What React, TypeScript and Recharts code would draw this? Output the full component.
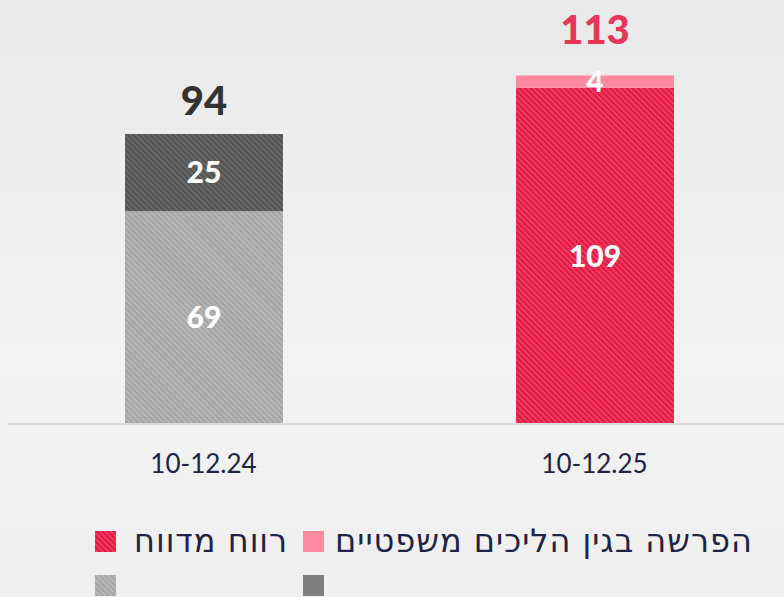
import { BarChart, Bar, XAxis, YAxis, Cell, LabelList } from 'recharts';

// 分类与数值
const periods = ['10-12.24', '10-12.25'];
const reportedProfit = [69, 109];
const legalProvision = [25, 4];
const legendLabels = ['רווח מדווח', 'הפרשה בגין הליכים משפטיים'];

const data = periods.map((period, i) => ({
  period,
  reported: reportedProfit[i],
  provision: legalProvision[i],
  total: reportedProfit[i] + legalProvision[i],
}));

const NAVY = '#1d2444';
const NUM_FONT = 'Lato, "Open Sans", sans-serif';

// 每个年份的填充
const bottomFill = ['url(#hatchGrey)', 'url(#hatchRed)'];
const topFill = ['url(#hatchDark)', '#ff8aa0'];
const totalColor = ['#333333', '#e8355a'];
const totalOffset = [19, 31];

function TotalLabel(props: any) {
  const { x, y, width, index } = props;
  return (
    <text
      x={x + width / 2}
      y={y - totalOffset[index]}
      textAnchor="middle"
      fill={totalColor[index]}
      fontSize={40}
      fontWeight={900}
      fontFamily={NUM_FONT}
    >
      {data[index].total}
    </text>
  );
}

function Swatch({ fill }: { fill: string }) {
  return (
    <svg width={21} height={21} style={{ display: 'block', flex: 'none' }}>
      <defs>
        <Patterns />
      </defs>
      <rect width={21} height={21} fill={fill} />
    </svg>
  );
}

function Patterns() {
  return (
    <>
      <pattern id="hatchRed" width={4} height={4} patternUnits="userSpaceOnUse" patternTransform="rotate(-45)">
        <rect width={4} height={4} fill="#ef3a5d" />
        <rect width={1.6} height={4} fill="#df1240" />
      </pattern>
      <pattern id="hatchGrey" width={4} height={4} patternUnits="userSpaceOnUse" patternTransform="rotate(-45)">
        <rect width={4} height={4} fill="#a5a5a5" />
        <rect width={1.6} height={4} fill="#b9b9b9" />
      </pattern>
      <pattern id="hatchDark" width={4} height={4} patternUnits="userSpaceOnUse" patternTransform="rotate(-45)">
        <rect width={4} height={4} fill="#535353" />
        <rect width={1.6} height={4} fill="#6b6b6b" />
      </pattern>
    </>
  );
}

export default function App() {
  return (
    <div
      style={{
        position: 'fixed',
        left: 0,
        top: 0,
        width: 784,
        height: 597,
        overflow: 'hidden',
        background: 'linear-gradient(#e9e9e9, #f3f3f3 60%, #efefef)',
      }}
    >
      <BarChart width={790} height={490} data={data} margin={{ top: 23, right: 0, left: 8, bottom: 6 }}>
        <defs>
          <Patterns />
        </defs>
        <XAxis
          dataKey="period"
          height={60}
          axisLine={{ stroke: '#dcdcdc', strokeWidth: 2 }}
          tickLine={false}
          tickMargin={25}
          tick={{ fill: NAVY, fontSize: 26, fontFamily: NUM_FONT }}
        />
        <YAxis hide domain={[0, 130]} />
        <Bar dataKey="reported" stackId="a" barSize={158} isAnimationActive={false}>
          {data.map((_, i) => (
            <Cell key={i} fill={bottomFill[i]} />
          ))}
          <LabelList
            dataKey="reported"
            position="center"
            fill="#ffffff"
            fontSize={30}
            fontWeight={900}
            fontFamily={NUM_FONT}
          />
        </Bar>
        <Bar dataKey="provision" stackId="a" barSize={158} isAnimationActive={false}>
          {data.map((_, i) => (
            <Cell key={i} fill={topFill[i]} />
          ))}
          <LabelList
            dataKey="provision"
            position="center"
            fill="#ffffff"
            fontSize={30}
            fontWeight={900}
            fontFamily={NUM_FONT}
          />
          <LabelList dataKey="total" content={<TotalLabel />} />
        </Bar>
      </BarChart>

      {/* מקרא */}
      <div
        style={{
          position: 'absolute',
          left: 95,
          top: 522,
          display: 'grid',
          gridTemplateColumns: '208px auto',
          rowGap: 15,
          fontFamily: '"DejaVu Sans", sans-serif',
          fontSize: 32,
          letterSpacing: 1,
          color: NAVY,
        }}
      >
        <div style={{ display: 'flex', alignItems: 'center', gap: 18 }}>
          <Swatch fill="url(#hatchRed)" />
          <span>{legendLabels[0]}</span>
        </div>
        <div style={{ display: 'flex', alignItems: 'center', gap: 11 }}>
          <Swatch fill="#ff8aa0" />
          <span>{legendLabels[1]}</span>
        </div>
        <div style={{ display: 'flex', alignItems: 'center' }}>
          <Swatch fill="url(#hatchGrey)" />
        </div>
        <div style={{ display: 'flex', alignItems: 'center' }}>
          <Swatch fill="#7f7f7f" />
        </div>
      </div>
    </div>
  );
}
